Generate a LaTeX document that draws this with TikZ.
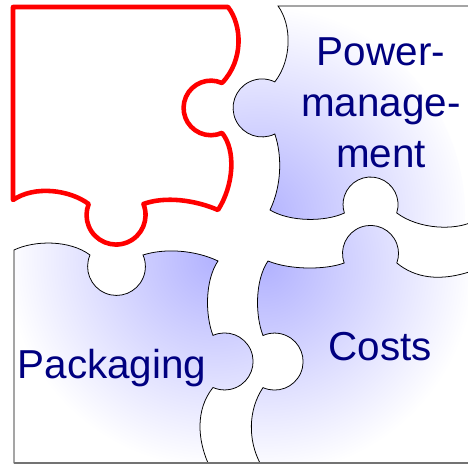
\documentclass[tikz,border=0pt]{standalone}
\usepackage{fontspec}
\setmainfont{Liberation Sans}
\usepackage{xcolor}
\usepackage{tikz}

\definecolor{labelblue}{RGB}{0,0,128}
\tikzset{
  piece/.style={draw=black, line width=1.1pt, fill=white},
  hilite/.style={draw=red, line width=6.5pt, fill=white, line join=round},
  blueshade/.style={path picture={\shade[inner color=blue!30, outer color=white] #1 circle (210);}},
  word/.style={text=labelblue, font=\fontsize{57.5}{72.5}\selectfont, align=center, inner sep=0pt}
}

\begin{document}
\begin{tikzpicture}[x=0.5mm, y=-0.5mm]
  \useasboundingbox (0,0) rectangle (468,465);
  \clip (0,0) rectangle (468,465);

  % top left piece, the empty one
  \draw[hilite] (13,7) -- (228,7)
    .. controls (242,25) and (244,60) .. (222,83)
    arc[start angle=-66, end angle=-294, radius=27.3]
    .. controls (236,150) and (234,185) .. (218,210)
    .. controls (195,200) and (165,196) .. (143.4,204)
    arc[start angle=-22, end angle=202, radius=29.5]
    .. controls (70,190) and (35,185) .. (13,200) -- cycle;

  % top right piece
  \draw[piece, blueshade={(255,215)}] (278,6) -- (472,6) -- (472,222)
    .. controls (455,230) and (420,230) .. (396.7,213)
    arc[start angle=18, end angle=-198, radius=27.5]
    .. controls (325,222) and (290,222) .. (270,210)
    .. controls (282,185) and (282,155) .. (274.8,134)
    arc[start angle=64, end angle=296, radius=29]
    .. controls (292,60) and (292,25) .. (278,6) -- cycle;

  % bottom left piece
  \draw[piece, blueshade={(215,258)}] (14,250)
    .. controls (35,240) and (70,240) .. (90,255)
    arc[start angle=203.5, end angle=-23.5, radius=28.9]
    .. controls (165,248) and (195,250) .. (218,261)
    .. controls (205,280) and (205,315) .. (213,335.4)
    arc[start angle=-114, end angle=114, radius=28.5]
    .. controls (195,410) and (198,440) .. (208,463)
    -- (14,463) -- cycle;

  % bottom right piece
  \draw[piece, blueshade={(265,265)}] (268,261)
    .. controls (290,270) and (325,270) .. (344.2,263)
    arc[start angle=160, end angle=380, radius=28]
    .. controls (415,278) and (440,282) .. (472,271)
    -- (472,463) -- (260,463)
    .. controls (248,440) and (248,410) .. (263,387.6)
    arc[start angle=114, end angle=-114, radius=28.5]
    .. controls (255,315) and (255,280) .. (268,261) -- cycle;

  \draw[black!55, line width=2.2pt] (14,463) -- (468,463);

  % base of a multi-line node sits on its last line
  \node[word, anchor=base] (power) at (381,167) {Power-\\manage-\\ment};
  \node[word, anchor=base] (packaging) at (112,378) {Packaging};
  \node[word, anchor=base] (costs) at (380,360) {Costs};
\end{tikzpicture}
\end{document}
